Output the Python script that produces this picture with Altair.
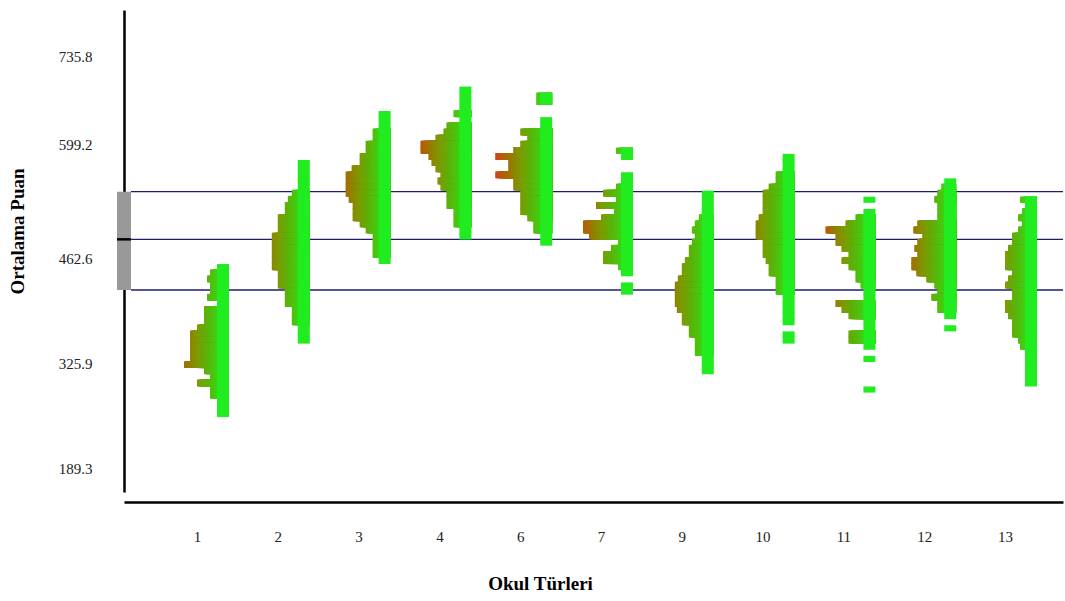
import json
import math

import altair as alt
import pandas as pd

# Okul türleri (x ekseni)
okul_turleri = ["1", "2", "3", "4", "6", "7", "9", "10", "11", "12", "13"]

# Puan aralıkları: 8 puanlık aralıklar, her okul için en üstteki aralığın alt sınırı
aralik_genisligi = 8
ilk_aralik = [448, 584, 648, 680, 672, 600, 544, 592, 536, 560, 536]

# Aralık başına frekanslar (yukarıdan aşağıya); None = boş aralık
frekans_1 = [0, 7, 10, 7, 7, 10, 0, 13, 13, 13, 20, 27, 27, 27, 27, 27, 33, 13, 7, 20, 7, 7, 0, 0, 0]
frekans_2 = [0, 0, 0, 0, 0, 6, 10, 13, 13, 20, 20, 20, 26, 26, 26, 26, 26, 26, 20, 20, 20, 13, 13, 13, 6, 6, 6, 0, 0, 0]
frekans_3 = [0, 0, 0, 6, 6, 13, 13, 19, 19, 27, 33, 33, 33, 33, 30, 26, 26, 26, 19, 13, 6, 6, 6, 6, 0]
frekans_4 = [0, 0, 0, 0, 6, 0, 13, 16, 24, 39, 39, 31, 28, 24, 19, 22, 19, 13, 13, 13, 6, 6, 6, 0, 0]
frekans_6 = [4, 4, None, None, 0, 0, 20, 13, 20, 27, 45, 32, 32, 45, 27, 27, 20, 20, 20, 20, 13, 7, 7, 0, 0]
frekans_7 = [5, 0, None, None, 0, 0, 5, 18, 5, 25, 7, 20, 38, 38, 32, 3, 10, 18, 18, 3, 0, None, 0, 0]
frekans_9 = [0, 0, 0, 0, 3, 7, 10, 7, 10, 13, 13, 17, 20, 20, 24, 27, 27, 27, 27, 25, 20, 20, 13, 13, 7, 7, 7, 0, 0, 0]
frekans_10 = [0, 0, 0, 7, 7, 14, 20, 20, 20, 20, 24, 27, 27, 27, 20, 20, 20, 17, 14, 14, 7, 7, 7, 0, 0, 0, 0, 0, None, 0, 0]
frekans_11 = [0, None, 0, 8, 18, 38, 28, 28, 22, 15, 22, 15, 8, 8, 3, 0, 0, 28, 22, 15, 0, 0, 15, 15, 0, None, 0,
              None, None, None, None, 0]
frekans_12 = [0, 3, 7, 10, 7, 7, 7, 27, 31, 22, 27, 30, 27, 33, 33, 28, 18, 10, 7, 13, 7, 7, 0, None, 0]
frekans_13 = [5, 0, 3, 7, 3, 7, 13, 13, 17, 20, 20, 20, 13, 17, 20, 13, 13, 20, 20, 17, 13, 13, 13, 7, 5, 0, 0, 0, 0, 0, 0]

frekanslar = [frekans_1, frekans_2, frekans_3, frekans_4, frekans_6, frekans_7,
              frekans_9, frekans_10, frekans_11, frekans_12, frekans_13]

# Genel ortalama ve bandın alt/üst sınırları
genel_alt = 422.1
genel_ortalama = 488.3
genel_ust = 550.6

y_etiketleri = [189.3, 325.9, 462.6, 599.2, 735.8]

# Yerleşim (frekans birimi cinsinden)
SUTUN = 80.8        # okul türleri arası uzaklık
OMURGA = 12         # her dolu aralığın en küçük çubuğu
SAG_KAYMA = 32      # çubukların sağ kenarının sütun merkezine uzaklığı
ADIM = 1            # renk geçişi için dilim genişliği
BINDIRME = 1.0      # komşu aralıklar arasında ince boşluk kalmasın diye
PLOT_W, PLOT_H = 939, 482

renk_alani = [0, 10, 20, 28, 36, 45]
renk_araligi = ["#3fd012", "#5ab20a", "#7d9a02", "#937e00", "#b06204", "#d0421a"]
OMURGA_RENK = "#20ec20"

dilimler, omurgalar = [], []
for i, (okul, ust, frek) in enumerate(zip(okul_turleri, ilk_aralik, frekanslar)):
    sag = i * SUTUN + SAG_KAYMA
    omurga_sol = sag - OMURGA
    for j, f in enumerate(frek):
        if f is None:
            continue
        alt_sinir = ust - j * aralik_genisligi
        ust_sinir = alt_sinir + aralik_genisligi + (BINDIRME if j > 0 and frek[j - 1] is not None else 0)
        omurgalar.append(dict(okul=okul, x=omurga_sol, x2=sag, y=alt_sinir, y2=ust_sinir))
        k = math.ceil(f / ADIM)
        # uzaktaki dilim önce çizilir, yakındakiler üstüne biner
        for s in reversed(range(k)):
            d0 = s * ADIM
            uzak = min(f, d0 + ADIM)
            dilimler.append(dict(okul=okul, x=omurga_sol - uzak, x2=sag,
                                 y=alt_sinir, y2=ust_sinir, d=(d0 + uzak) / 2))

dilim_df = pd.DataFrame(dilimler)
omurga_df = pd.DataFrame(omurgalar)
band_df = pd.DataFrame({"y": [genel_alt], "y2": [genel_ust]})
cizgi_df = pd.DataFrame({"y": [genel_alt, genel_ortalama, genel_ust]})
ortalama_df = pd.DataFrame({"y": [genel_ortalama]})

FONT = "Liberation Serif"
x_degerleri = [round(i * SUTUN, 1) for i in range(len(okul_turleri))]
etiket_ifadesi = f"{json.dumps(okul_turleri)}[round(datum.value / {SUTUN})]"

x_enc = alt.X(
    "x:Q",
    scale=alt.Scale(domain=[-73, 866], nice=False, zero=False),
    axis=alt.Axis(
        values=x_degerleri, labelExpr=etiket_ifadesi, title="Okul Türleri",
        offset=10, grid=False, ticks=False, tickSize=0, labelPadding=27,
        domainColor="#000000", domainWidth=2.5,
        labelFont=FONT, labelFontSize=15, labelColor="#222222",
        titleFont=FONT, titleFontSize=19, titleFontWeight="bold", titleColor="#000000",
        titleX=416, titleY=81, titleAlign="center", titleBaseline="middle",
    ),
)
y_enc = alt.Y(
    "y:Q",
    scale=alt.Scale(domain=[158.1, 788.0], nice=False, zero=False),
    axis=alt.Axis(
        values=y_etiketleri, format=".1f", title="Ortalama Puan",
        grid=False, ticks=False, tickSize=0, labelPadding=32,
        labelOffset={"condition": [{"test": "datum.value > 700", "value": 7},
                                   {"test": "datum.value > 590", "value": -10}],
                     "value": 0},
        domainColor="#000000", domainWidth=2.5,
        labelFont=FONT, labelFontSize=15, labelColor="#222222",
        titleFont=FONT, titleFontSize=19, titleFontWeight="bold", titleColor="#000000",
        titleAngle=270, titleX=-107, titleY=221, titleAlign="center", titleBaseline="middle",
    ),
)

cizgiler = alt.Chart(cizgi_df).mark_rule(color="#1c1c70", strokeWidth=1.4).encode(
    y=y_enc, x=alt.value(7), x2=alt.value(PLOT_W)
)

dilim_katmani = alt.Chart(dilim_df).mark_rect(strokeWidth=0).encode(
    x=x_enc, x2="x2:Q", y=y_enc, y2="y2:Q",
    color=alt.Color("d:Q", scale=alt.Scale(domain=renk_alani, range=renk_araligi,
                                             interpolate="rgb"), legend=None),
)

omurga_katmani = alt.Chart(omurga_df).mark_rect(color=OMURGA_RENK, strokeWidth=0).encode(
    x=x_enc, x2="x2:Q", y=y_enc, y2="y2:Q"
)

band = alt.Chart(band_df).mark_rect(color="#999999").encode(
    y=y_enc, y2="y2:Q", x=alt.value(-7), x2=alt.value(7)
)

ortalama = alt.Chart(ortalama_df).mark_rule(color="#000000", strokeWidth=2.5).encode(
    y=y_enc, x=alt.value(-7), x2=alt.value(7)
)

chart = (
    alt.layer(cizgiler, dilim_katmani, omurga_katmani, band, ortalama)
    .properties(
        width=PLOT_W, height=PLOT_H,
        autosize=alt.AutoSizeParams(type="none"),
        padding={"left": 124, "top": 10, "right": 2, "bottom": 109},
        background="#ffffff",
    )
    .configure_view(strokeWidth=0)
)

chart.save("out.html", embed_options={"renderer": "svg", "actions": False})
